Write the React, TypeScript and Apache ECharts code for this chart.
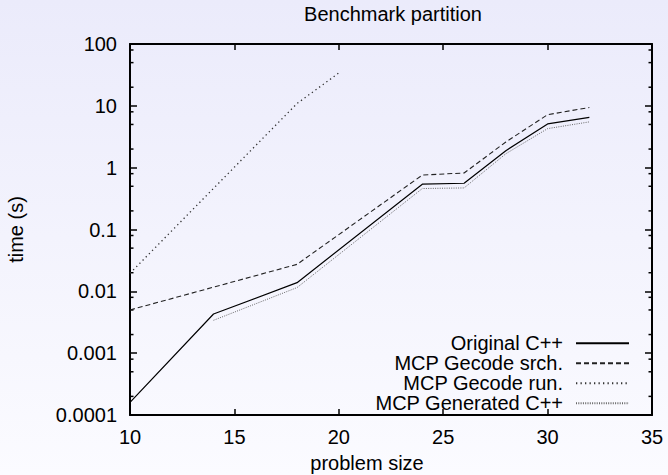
import React, { useEffect, useRef } from "react";
import * as echarts from "echarts";

const sizes = [10, 14, 18, 20, 24, 26, 28, 30, 32];
const originalCpp = [0.00016, 0.0043, 0.0138, null, 0.54, 0.56, 1.88, 5.1, 6.5];
const gecodeSrch = [0.005, null, 0.0273, null, 0.76, 0.82, 2.6, 7.2, 9.4];
const gecodeRun = [0.0196, null, 10.9, 34, null, null, null, null, null];
const generatedCpp = [null, 0.0034, 0.0115, null, 0.46, 0.47, 1.68, 4.28, 5.5];
const seriesNames = ["Original C++", "MCP Gecode srch.", "MCP Gecode run.", "MCP Generated C++"];
const minorTickValues = [
  0.0002, 0.0005, 0.0008, 0.002, 0.005, 0.008, 0.02, 0.05, 0.08,
  0.2, 0.5, 0.8, 2, 5, 8, 20, 50, 80,
];

const FONT = "'Liberation Sans', Arial, Helvetica, sans-serif";
const FS = 20;

function pairs(vals: (number | null)[]) {
  return sizes.map((x, i) => [x, vals[i]]);
}

export default function App() {
  const ref = useRef<HTMLDivElement>(null);
  useEffect(() => {
    if (!ref.current) return;
    const chart = echarts.init(ref.current, null, { renderer: "svg" });
    const fmt = (v: number) => String(+Number(v).toPrecision(2));
    const axisLine = { show: true, lineStyle: { color: "#000", width: 2 } };
    const xCommon = {
      type: "value",
      min: 10,
      max: 35,
      interval: 5,
      axisLine,
      axisTick: { show: true, inside: true, length: 6, lineStyle: { color: "#000", width: 1.5 } },
      splitLine: { show: false },
    };
    const yCommon = {
      type: "log",
      logBase: 10,
      min: 0.0001,
      max: 100,
      interval: 1,
      axisLine,
      axisTick: { show: true, inside: true, length: 7, lineStyle: { color: "#000", width: 1.5 } },
      splitLine: { show: false },
    };
    const lineSeries = (name: string, vals: (number | null)[], color: string, width: number, type: any) => ({
      name,
      type: "line",
      data: pairs(vals),
      connectNulls: true,
      symbol: "none",
      lineStyle: { color, width, type },
      itemStyle: { color },
    });
    chart.setOption({
      animation: false,
      textStyle: { fontFamily: FONT },
      title: {
        text: "Benchmark partition",
        left: 393,
        textAlign: "center",
        top: 4,
        padding: 0,
        textStyle: { fontFamily: FONT, fontSize: FS, fontWeight: "normal", color: "#000", lineHeight: 20 },
      },
      grid: { left: 130, right: 16, top: 44, bottom: 60, containLabel: false, outerBoundsMode: "none" },
      legend: {
        data: seriesNames,
        orient: "vertical",
        right: 38,
        top: 333.3,
        padding: 0,
        align: "right",
        itemWidth: 53,
        itemHeight: 12,
        itemGap: 0,
        itemStyle: { color: "transparent", borderWidth: 0, opacity: 0 },
        textStyle: { fontFamily: FONT, fontSize: FS, color: "#000", lineHeight: 18.8, padding: [0, 8, 0, 0] },
      },
      xAxis: [
        {
          ...xCommon,
          position: "bottom",
          name: "problem size",
          nameLocation: "middle",
          nameGap: 41,
          nameTextStyle: { fontFamily: FONT, fontSize: FS, color: "#000", lineHeight: 14, padding: [0, 48, 0, 0] },
          axisLabel: { show: true, margin: 12, fontFamily: FONT, fontSize: FS, color: "#000" },
        },
        { ...xCommon, position: "top", axisLabel: { show: false } },
      ],
      yAxis: [
        {
          ...yCommon,
          position: "left",
          name: "time (s)",
          nameLocation: "middle",
          nameRotate: 90,
          nameGap: 104,
          nameTextStyle: { fontFamily: FONT, fontSize: FS, color: "#000" },
          axisLabel: { show: true, margin: 13, fontFamily: FONT, fontSize: FS, color: "#000", formatter: fmt },
        },
        { ...yCommon, position: "right", axisLabel: { show: false } },
      ],
      series: [
        lineSeries(seriesNames[0], originalCpp, "#000", 1.2, "solid"),
        lineSeries(seriesNames[1], gecodeSrch, "#222", 1.1, [5, 3]),
        lineSeries(seriesNames[2], gecodeRun, "#333", 1.3, [1.3, 3.2]),
        lineSeries(seriesNames[3], generatedCpp, "#666", 1, [1, 1.3]),
        {
          type: "custom",
          silent: true,
          xAxisIndex: 0,
          yAxisIndex: 0,
          data: minorTickValues.map((v) => [10, v]),
          renderItem: (params: any, api: any) => {
            const cs = params.coordSys;
            const p = api.coord([10, api.value(1)]);
            const y = p[1];
            const style = { stroke: "#000", lineWidth: 1.5 };
            return {
              type: "group",
              children: [
                { type: "line", shape: { x1: cs.x, y1: y, x2: cs.x + 3.5, y2: y }, style },
                { type: "line", shape: { x1: cs.x + cs.width - 3.5, y1: y, x2: cs.x + cs.width, y2: y }, style },
              ],
            };
          },
        },
      ],
    });
    return () => chart.dispose();
  }, []);
  return (
    <div
      style={{
        position: "fixed",
        left: 0,
        top: 0,
        width: 668,
        height: 475,
        background: "linear-gradient(#ebebfb, #fbfbff)",
      }}
    >
      <div ref={ref} style={{ width: 668, height: 475 }} />
    </div>
  );
}
